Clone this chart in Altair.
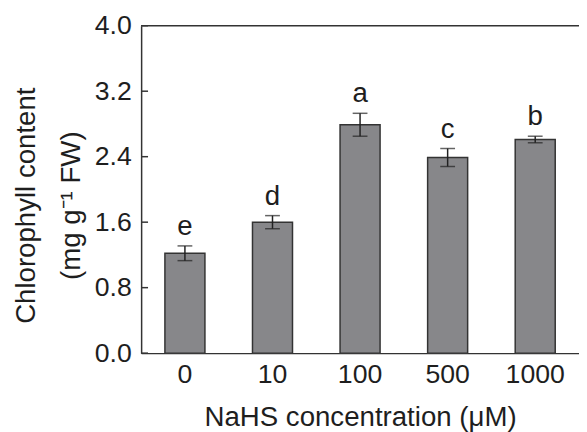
import altair as alt
import pandas as pd

conc = ["0", "10", "100", "500", "1000"]
means = [1.22, 1.60, 2.79, 2.39, 2.61]
errs = [0.09, 0.08, 0.14, 0.11, 0.04]
letters = ["e", "d", "a", "c", "b"]
yticks = [0.0, 0.8, 1.6, 2.4, 3.2, 4.0]

df = pd.DataFrame({"conc": conc, "mean": means, "err": errs, "letter": letters})
df["lo"] = df["mean"] - df["err"]
df["hi"] = df["mean"] + df["err"]
yt = pd.DataFrame({"v": yticks})
one = pd.DataFrame({"k": [0]})

FONT = "Liberation Sans"
INK = "#1e1e1e"
LINE = "#333333"
W, H = 444, 332

xenc = alt.X(
    "conc:N", sort=conc,
    scale=alt.Scale(paddingInner=0.543, paddingOuter=0.2715),
    axis=alt.Axis(
        title="NaHS concentration (μM)", labelAngle=0, ticks=False, tickSize=0,
        labelPadding=30, labelBaseline="alphabetic", labelFontSize=27, labelColor=INK,
        titleFontSize=28, titleFontWeight="normal", titleColor=INK,
        titleY=73, titleBaseline="alphabetic",
        domainColor=LINE, domainWidth=1.5, grid=False,
    ),
)
yenc = alt.Y(
    "mean:Q",
    scale=alt.Scale(domain=[0, 4], nice=False, zero=True),
    axis=alt.Axis(
        values=yticks, format=".1f", ticks=False, tickSize=0, labelPadding=10,
        labelFontSize=27, labelColor=INK, grid=False,
        domainColor=LINE, domainWidth=1.5,
        title=["Chlorophyll content", "(mg g⁻¹ FW)"],
        titleFontSize=28, titleFontWeight="normal", titleColor=INK,
        titleAngle=270, titleAlign="center", titleBaseline="alphabetic",
        titleX=-108, titleY=182, titleLineHeight=46,
    ),
)

base = alt.Chart(df)
bars = base.mark_bar(fill="#87878a", stroke=LINE, strokeWidth=1.5).encode(x=xenc, y=yenc)
rules = base.mark_rule(color="#222222", strokeWidth=1.5).encode(
    x=alt.X("conc:N", sort=conc), y="lo:Q", y2="hi:Q")
cap_lo = base.mark_tick(color="#222222", size=15, thickness=1.5).encode(
    x=alt.X("conc:N", sort=conc), y="lo:Q")
cap_hi = base.mark_tick(color="#222222", size=15, thickness=1.5).encode(
    x=alt.X("conc:N", sort=conc), y="hi:Q")
text = base.mark_text(fontSize=28, font=FONT, color=INK, baseline="alphabetic", dy=-11).encode(
    x=alt.X("conc:N", sort=conc), y="hi:Q", text="letter:N")
yticks_in = alt.Chart(yt).mark_rule(color=LINE, strokeWidth=1.5).encode(
    y="v:Q", x=alt.value(0), x2=alt.value(7))
top = alt.Chart(one).mark_rule(color=LINE, strokeWidth=1.5).encode(
    y=alt.value(0), x=alt.value(0), x2=alt.value(W))

chart = alt.layer(bars, rules, cap_lo, cap_hi, text, yticks_in, top).properties(
    width=W, height=H,
    autosize=alt.AutoSizeParams(type="none"),
    padding={"left": 135, "top": 15, "right": 0, "bottom": 77},
).configure(font=FONT).configure_view(stroke=None)

chart.save("out.html", embed_options={"renderer": "svg", "actions": False})
